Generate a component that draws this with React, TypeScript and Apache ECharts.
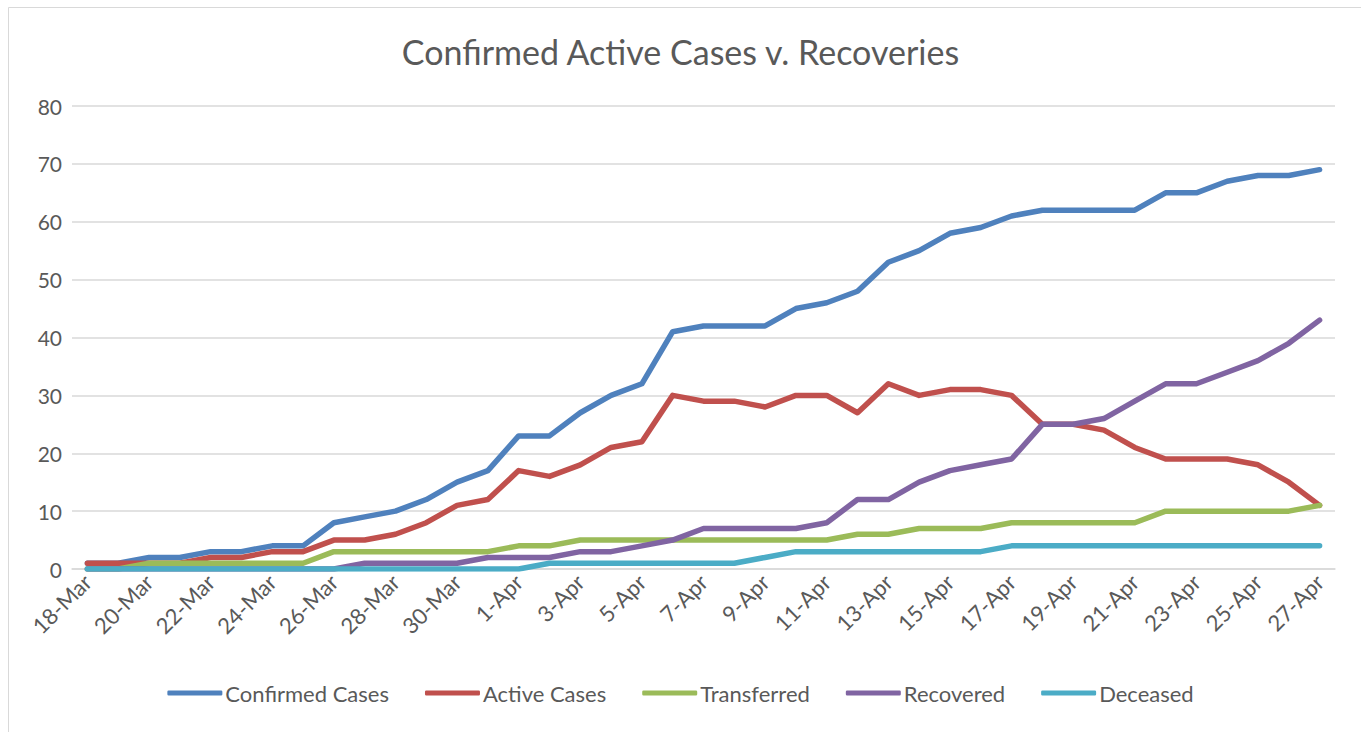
import React, { useEffect, useRef } from "react";
import * as echarts from "echarts";

const dates = [
  "18-Mar", "19-Mar", "20-Mar", "21-Mar", "22-Mar", "23-Mar", "24-Mar", "25-Mar", "26-Mar", "27-Mar",
  "28-Mar", "29-Mar", "30-Mar", "31-Mar", "1-Apr", "2-Apr", "3-Apr", "4-Apr", "5-Apr", "6-Apr",
  "7-Apr", "8-Apr", "9-Apr", "10-Apr", "11-Apr", "12-Apr", "13-Apr", "14-Apr", "15-Apr", "16-Apr",
  "17-Apr", "18-Apr", "19-Apr", "20-Apr", "21-Apr", "22-Apr", "23-Apr", "24-Apr", "25-Apr", "26-Apr",
  "27-Apr",
];

const confirmed = [1, 1, 2, 2, 3, 3, 4, 4, 8, 9, 10, 12, 15, 17, 23, 23, 27, 30, 32, 41, 42, 42, 42, 45, 46, 48, 53, 55, 58, 59, 61, 62, 62, 62, 62, 65, 65, 67, 68, 68, 69];
const active = [1, 1, 1, 1, 2, 2, 3, 3, 5, 5, 6, 8, 11, 12, 17, 16, 18, 21, 22, 30, 29, 29, 28, 30, 30, 27, 32, 30, 31, 31, 30, 25, 25, 24, 21, 19, 19, 19, 18, 15, 11];
const transferred = [0, 0, 1, 1, 1, 1, 1, 1, 3, 3, 3, 3, 3, 3, 4, 4, 5, 5, 5, 5, 5, 5, 5, 5, 5, 6, 6, 7, 7, 7, 8, 8, 8, 8, 8, 10, 10, 10, 10, 10, 11];
const recovered = [0, 0, 0, 0, 0, 0, 0, 0, 0, 1, 1, 1, 1, 2, 2, 2, 3, 3, 4, 5, 7, 7, 7, 7, 8, 12, 12, 15, 17, 18, 19, 25, 25, 26, 29, 32, 32, 34, 36, 39, 43];
const deceased = [0, 0, 0, 0, 0, 0, 0, 0, 0, 0, 0, 0, 0, 0, 0, 1, 1, 1, 1, 1, 1, 1, 2, 3, 3, 3, 3, 3, 3, 3, 4, 4, 4, 4, 4, 4, 4, 4, 4, 4, 4];

const seriesNames = ["Confirmed Cases", "Active Cases", "Transferred", "Recovered", "Deceased"];
const seriesColors = ["#4F81BD", "#C0504D", "#9BBB59", "#8064A2", "#4BACC6"];
const seriesData = [confirmed, active, transferred, recovered, deceased];

const FONT = "Lato, 'Open Sans', sans-serif";
const TEXT = "#595959";

export default function App() {
  const ref = useRef<HTMLDivElement>(null);

  useEffect(() => {
    if (!ref.current) return;
    const chart = echarts.init(ref.current, null, { renderer: "svg" });
    chart.setOption({
      animation: false,
      backgroundColor: "#ffffff",
      textStyle: { fontFamily: FONT },
      title: {
        text: "Confirmed Active Cases v. Recoveries",
        left: "center",
        top: 29,
        textStyle: { fontFamily: FONT, fontSize: 34, fontWeight: "normal", color: TEXT },
      },
      graphic: [
        {
          type: "rect",
          shape: { x: 8.5, y: 7.5, width: 1400, height: 800 },
          style: { fill: "none", stroke: "#D9D9D9", lineWidth: 1 },
          silent: true,
        },
      ],
      legend: {
        bottom: 23,
        left: "center",
        icon: "roundRect",
        itemWidth: 55,
        itemHeight: 5,
        itemGap: 36,
        textStyle: { fontFamily: FONT, fontSize: 22, color: TEXT, padding: [0, 0, 0, -2] },
        data: seriesNames,
      },
      grid: { left: 72, right: 26, top: 106, bottom: 163, containLabel: false },
      xAxis: {
        type: "category",
        data: dates,
        boundaryGap: true,
        axisLine: { lineStyle: { color: "#D9D9D9", width: 1.5 } },
        axisTick: { show: false },
        axisLabel: {
          interval: 1,
          rotate: 45,
          margin: 9,
          fontFamily: FONT,
          fontSize: 22,
          color: TEXT,
        },
      },
      yAxis: {
        type: "value",
        min: 0,
        max: 80,
        interval: 10,
        axisLine: { show: false },
        axisTick: { show: false },
        axisLabel: { fontFamily: FONT, fontSize: 21, color: TEXT, margin: 10 },
        splitLine: { lineStyle: { color: "#D9D9D9", width: 1.5 } },
      },
      series: seriesNames.map((name, i) => ({
        name,
        type: "line",
        data: seriesData[i],
        showSymbol: false,
        symbol: "none",
        color: seriesColors[i],
        lineStyle: { width: 5.5, color: seriesColors[i], cap: "round", join: "round" },
      })),
    });
    return () => chart.dispose();
  }, []);

  return (
    <div
      ref={ref}
      style={{ position: "fixed", left: 0, top: 0, width: 1361, height: 732 }}
    />
  );
}
